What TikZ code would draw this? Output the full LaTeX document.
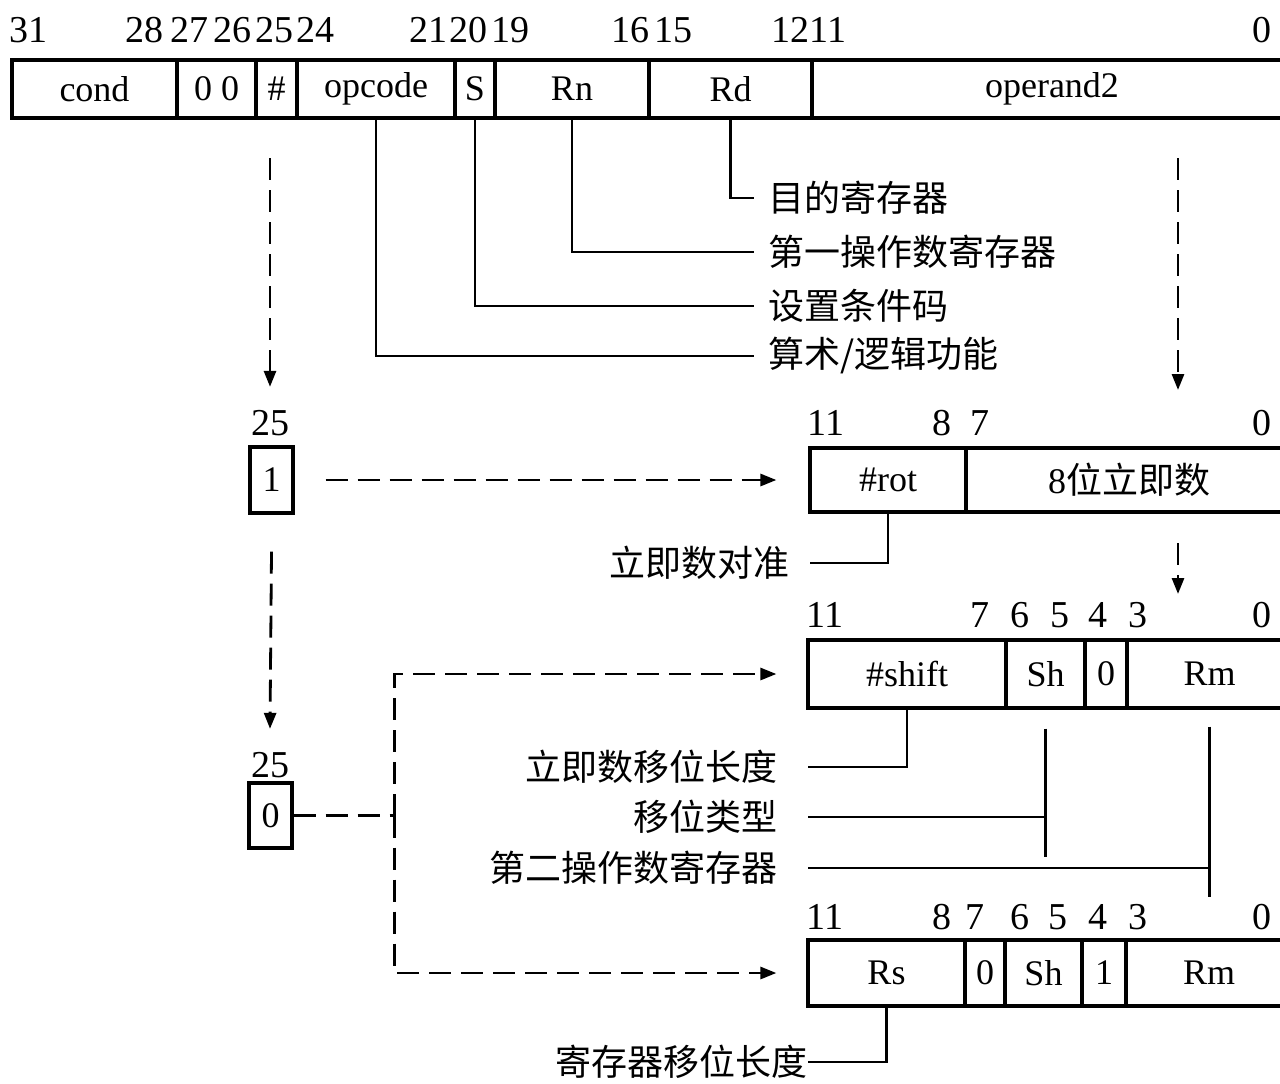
\documentclass[tikz,border=0pt]{standalone}
\usepackage{fontspec}
\setmainfont{Liberation Serif}
\newfontfamily\cjk{Noto Sans CJK SC}
\usetikzlibrary{arrows.meta}
\newcommand\fld[6]{\node[field, minimum width={(#3-#2)*0.5pt}, minimum height={(#5-#4)*0.5pt}] (#1) at ({(#2+#3)/2},{(#4+#5)/2}) {#6};}
\tikzset{
  field/.style={draw, line width=1.6pt, inner sep=0pt, font=\fontsize{18pt}{20pt}\selectfont},
  num/.style={inner sep=0pt, font=\fontsize{19pt}{21pt}\selectfont},
  lab/.style={inner sep=0pt, font=\cjk\fontsize{18pt}{20pt}\selectfont},
  conn/.style={line width=1.3pt},
  dashline/.style={line width=1.4pt, dash pattern=on 11pt off 5pt},
  dasharrow/.style={dashline, -{Triangle[length=8pt,width=6pt]}}
}
\begin{document}
\begin{tikzpicture}[x=0.5pt,y=-0.5pt]
\clip (0,0) rectangle (1280,1083);
\fill[white] (0,0) rectangle (1280,1083);
% top instruction format
\fld{cond}{12}{177}{60}{118}{cond}
\fld{zz}{177}{256}{60}{118}{0 0}
\fld{hash}{256}{297}{60}{118}{\#}
\fld{opc}{297}{455}{60}{118}{opcode}
\fld{sbit}{455}{495}{60}{118}{S}
\fld{rn}{495}{649}{60}{118}{Rn}
\fld{rd}{649}{812}{60}{118}{Rd}
\fld{optwo}{812}{1292}{60}{118}{operand2}
\node[num] (t31) at (29,30) {31};
\node[num] (t28) at (144,30) {28};
\node[num] (t27) at (189,30) {27};
\node[num] (t26) at (232,30) {26};
\node[num] (t25) at (274,30) {25};
\node[num] (t24) at (315,30) {24};
\node[num] (t21) at (428,30) {21};
\node[num] (t20) at (468,30) {20};
\node[num] (t19) at (510,30) {19};
\node[num] (t16) at (630,30) {16};
\node[num] (t15) at (673,30) {15};
\node[num] (t12) at (790,30) {12};
\node[num] (t11) at (828,30) {11};
\node[num] (t0) at (1262,30) {0};
% labels of top fields
\node[lab, anchor=west] (l1) at (768,198) {目的寄存器};
\node[lab, anchor=west] (l2) at (768,252) {第一操作数寄存器};
\node[lab, anchor=west] (l3) at (768,306) {设置条件码};
\node[lab, anchor=west] (l4) at (768,356) {算术/逻辑功能};
\draw[conn] (rd.south) |- ([xshift=-7pt]l1.west);
\draw[conn] (rn.south) |- ([xshift=-7pt]l2.west);
\draw[conn] (sbit.south) |- ([xshift=-7pt]l3.west);
\draw[conn] (opc.south) |- ([xshift=-7pt]l4.west);
% immediate operand
\node[num] (b25a) at (270,423) {25};
\fld{one}{250}{293}{447}{513}{1}
\fld{rot}{810}{966}{448}{512}{\#rot}
\fld{imm}{966}{1292}{448}{512}{8{\cjk 位立即数}}
\node[num] (r11) at (826,423) {11};
\node[num] (r8) at (942,423) {8};
\node[num] (r7) at (980,423) {7};
\node[num] (r0) at (1262,423) {0};
\node[lab, anchor=east] (l5) at (790,563) {立即数对准};
\draw[conn] (rot.south) |- ([xshift=10pt]l5.east);
% register operand, immediate shift
\fld{shift}{808}{1006}{640}{708}{\#shift}
\fld{sh}{1006}{1085}{640}{708}{Sh}
\fld{zb}{1085}{1127}{640}{708}{0}
\fld{rm}{1127}{1292}{640}{708}{Rm}
\node[num] (s11) at (825,615) {11};
\node[num] (s7) at (980,615) {7};
\node[num] (s6) at (1020,615) {6};
\node[num] (s5) at (1060,615) {5};
\node[num] (s4) at (1098,615) {4};
\node[num] (s3) at (1138,615) {3};
\node[num] (s0) at (1262,615) {0};
\node[lab, anchor=east] (l6) at (778,767) {立即数移位长度};
\node[lab, anchor=east] (l7) at (778,817) {移位类型};
\node[lab, anchor=east] (l8) at (778,868) {第二操作数寄存器};
\draw[conn] (shift.south) |- ([xshift=15pt]l6.east);
\coordinate (shtop) at ([yshift=-9.5pt]sh.south);
\coordinate (shbot) at ([yshift=-73.5pt]sh.south);
\draw[conn] (shtop) -- (shbot);
\draw[conn] ([xshift=15pt]l7.east) -- (l7.east -| sh.south);
\coordinate (rmtop) at ([yshift=-8.5pt]rm.south);
\coordinate (rmbot) at ([yshift=-93.5pt]rm.south);
\draw[conn] (rmtop) -- (rmbot);
\draw[conn] ([xshift=15pt]l8.east) -- (l8.east -| rm.south);
\node[num] (b25b) at (270,765) {25};
\fld{zero}{249}{292}{783}{848}{0}
% register operand, register shift
\fld{rs}{808}{965}{940}{1006}{Rs}
\fld{zc}{965}{1005}{940}{1006}{0}
\fld{shb}{1005}{1082}{940}{1006}{Sh}
\fld{ob}{1082}{1126}{940}{1006}{1}
\fld{rmb}{1126}{1292}{940}{1006}{Rm}
\node[num] (u11) at (825,917) {11};
\node[num] (u8) at (942,917) {8};
\node[num] (u7) at (975,917) {7};
\node[num] (u6) at (1020,917) {6};
\node[num] (u5) at (1058,917) {5};
\node[num] (u4) at (1098,917) {4};
\node[num] (u3) at (1138,917) {3};
\node[num] (u0) at (1262,917) {0};
\node[lab, anchor=east] (l9) at (808,1062) {寄存器移位长度};
\draw[conn] (rs.south) |- (l9.east);
% dashed flow
\coordinate (d1s) at (270,158);
\draw[dasharrow] (d1s) -- ([yshift=11.5pt]b25a.north);
\coordinate (d2s) at (1178,158);
\coordinate (d2e) at (1178,390);
\draw[dasharrow] (d2s) -- (d2e);
\draw[dasharrow] ([xshift=15.5pt]one.east) -- ([xshift=-16pt]rot.west);
\coordinate (d4s) at (1178,543);
\coordinate (d4e) at (1178,594);
\draw[dasharrow] (d4s) -- (d4e);
\draw[dasharrow] ([yshift=-18.5pt]one.south) -- ([yshift=11.5pt]b25b.north);
\coordinate (jn) at ([xshift=50.5pt]zero.east);
\draw[dashline] (zero.east) -- (jn);
\draw[dasharrow] (jn) |- ([xshift=-15pt]shift.west);
\draw[dasharrow] (jn) |- ([xshift=-15pt]rs.west);
\end{tikzpicture}
\end{document}
